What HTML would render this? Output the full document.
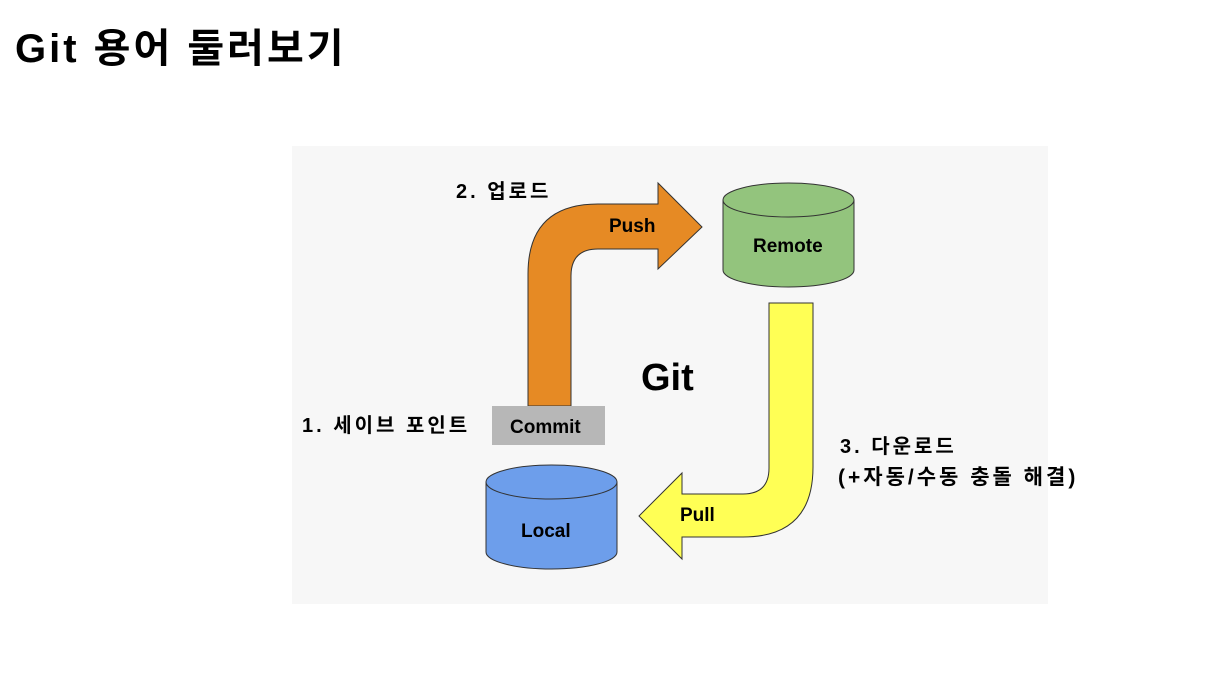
<!DOCTYPE html>
<html><head><meta charset="utf-8"><style>
body{margin:0;width:1206px;height:698px;background:#fff;overflow:hidden;position:relative;font-family:"Liberation Sans","Noto Sans CJK KR",sans-serif}
.t{position:absolute;font-weight:bold;color:#000;white-space:nowrap}
.k{letter-spacing:3px}
</style></head><body>
<div class="t" style="left:15px;top:16px;font-size:40px;letter-spacing:3px">Git 용어 둘러보기</div>
<svg width="1206" height="698" style="position:absolute;left:0;top:0">
<rect x="292" y="146" width="756" height="458" fill="#f7f7f7"/>
<path d="M528 406 L528 274 Q528 204 598 204 L658 204 L658 183 L702 227 L658 269 L658 249 L598 249 Q571 249 571 276 L571 406 Z" fill="#e68a24" stroke="#333" stroke-width="1"/>
<path d="M769 303 L813 303 L813 467 Q813 537 743 537 L682 537 L682 559 L639 516 L682 473 L682 494 L743 494 Q769 494 769 468 Z" fill="#ffff55" stroke="#333" stroke-width="1"/>
<path d="M723 200 L723 270 A65.5 17 0 0 0 854 270 L854 200 Z" fill="#93c47d" stroke="#333"/>
<ellipse cx="788.5" cy="200" rx="65.5" ry="17" fill="#93c47d" stroke="#333"/>
<path d="M486 482 L486 552 A65.5 17 0 0 0 617 552 L617 482 Z" fill="#6d9eeb" stroke="#333"/>
<ellipse cx="551.5" cy="482" rx="65.5" ry="17" fill="#6d9eeb" stroke="#333"/>
<rect x="492" y="406" width="113" height="39" fill="#b7b7b7"/>
</svg>
<div class="t" style="left:609px;top:216px;font-size:19px">Push</div>
<div class="t" style="left:753px;top:236px;font-size:19px">Remote</div>
<div class="t" style="left:510px;top:417px;font-size:19px">Commit</div>
<div class="t" style="left:521px;top:521px;font-size:19px">Local</div>
<div class="t" style="left:680px;top:505px;font-size:19px">Pull</div>
<div class="t" style="left:641px;top:357px;font-size:38px">Git</div>
<div class="t k" style="left:456px;top:175px;font-size:20px">2. 업로드</div>
<div class="t k" style="left:302px;top:409px;font-size:20px">1. 세이브 포인트</div>
<div class="t k" style="left:840px;top:430px;font-size:20px">3. 다운로드</div>
<div class="t k" style="left:838px;top:461px;font-size:21px">(+자동/수동 충돌 해결)</div>
</body></html>
